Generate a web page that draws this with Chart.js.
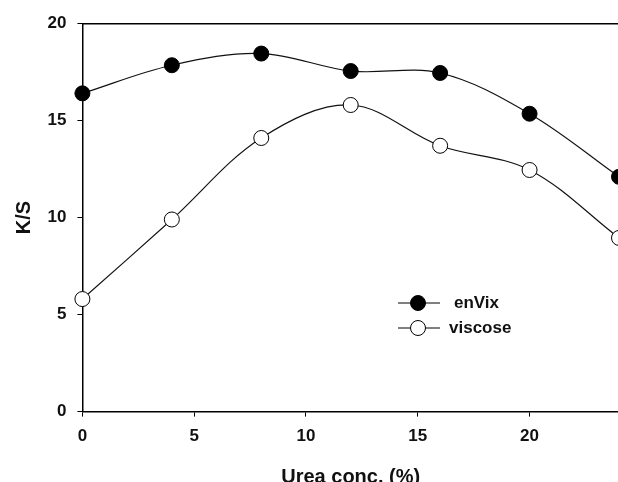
<!DOCTYPE html>
<html>
<head>
<meta charset="utf-8">
<script src="https://cdn.jsdelivr.net/npm/chart.js@4"></script>
<style>
  html, body { margin: 0; padding: 0; background: #fff; overflow: hidden; }
  #wrap { width: 640px; height: 492px; }
</style>
</head>
<body>
<div id="wrap"><canvas id="ksChart" width="640" height="492"></canvas></div>
<script>
// urea concentration (%)
const ureaConc = [0, 4, 8, 12, 16, 20, 24];
// K/S values
const enVix = [16.4, 17.85, 18.45, 17.55, 17.45, 15.35, 12.1];
const viscose = [5.8, 9.9, 14.1, 15.8, 13.7, 12.45, 8.95];
const seriesNames = ['enVix', 'viscose'];
const xTicks = [0, 5, 10, 15, 20];
const yTicks = [0, 5, 10, 15, 20];

const fontFam = '"Liberation Sans", Arial, sans-serif';

const toPoints = (xs, ys) => xs.map((x, i) => ({ x: x, y: ys[i] }));

// legend drawn inside the plot like the original figure
const insideLegend = {
    id: 'insideLegend',
    afterDraw(chart) {
        const ctx = chart.ctx;
        const items = [
            { label: seriesNames[0], fill: '#000', y: 303, tx: 454 },
            { label: seriesNames[1], fill: '#fff', y: 328, tx: 449 }
        ];
        ctx.save();
        items.forEach(it => {
            ctx.strokeStyle = '#000';
            ctx.lineWidth = 1;
            ctx.beginPath();
            ctx.moveTo(398, it.y);
            ctx.lineTo(440, it.y);
            ctx.stroke();
            ctx.beginPath();
            ctx.arc(418, it.y, 7.5, 0, Math.PI * 2);
            ctx.fillStyle = it.fill;
            ctx.fill();
            ctx.stroke();
            ctx.fillStyle = '#111';
            ctx.font = 'bold 17px ' + fontFam;
            ctx.textBaseline = 'middle';
            ctx.fillText(it.label, it.tx, it.y);
        });
        ctx.restore();
    }
};

const data = {
    datasets: [
        {
            label: seriesNames[0],
            data: toPoints(ureaConc, enVix),
            borderColor: '#111',
            borderWidth: 1.2,
            pointRadius: 7.5,
            pointBackgroundColor: '#000',
            pointBorderColor: '#000',
            pointBorderWidth: 1,
            tension: 0.35,
            clip: false
        },
        {
            label: seriesNames[1],
            data: toPoints(ureaConc, viscose),
            borderColor: '#111',
            borderWidth: 1.2,
            pointRadius: 7.5,
            pointBackgroundColor: '#fff',
            pointBorderColor: '#000',
            pointBorderWidth: 1,
            tension: 0.35,
            clip: false
        }
    ]
};

const config = {
    type: 'line',
    data: data,
    options: {
        responsive: false,
        animation: false,
        layout: { padding: { top: 23.5, right: 21, left: 12, bottom: 3 } },
        plugins: {
            legend: { display: false },
            tooltip: { enabled: false }
        },
        scales: {
            x: {
                type: 'linear',
                min: 0,
                max: 24,
                afterBuildTicks: scale => { scale.ticks = xTicks.map(v => ({ value: v })); },
                grid: { drawOnChartArea: false, drawTicks: true, tickLength: 5, tickColor: '#000' },
                border: { color: '#000', width: 1.5 },
                ticks: { color: '#111', font: { family: fontFam, size: 17, weight: 'bold' }, padding: 10 },
                title: {
                    display: true,
                    text: 'Urea conc. (%)',
                    color: '#111',
                    font: { family: fontFam, size: 20, weight: 'bold' },
                    padding: { top: 8, bottom: 0 }
                }
            },
            xTop: {
                type: 'linear',
                position: 'top',
                min: 0,
                max: 24,
                grid: { display: false, drawTicks: false },
                border: { color: '#000', width: 1.5 },
                ticks: { display: false }
            },
            y: {
                min: 0,
                max: 20,
                afterBuildTicks: scale => { scale.ticks = yTicks.map(v => ({ value: v })); },
                grid: { drawOnChartArea: false, drawTicks: true, tickLength: 5, tickColor: '#000' },
                border: { color: '#000', width: 1.5 },
                ticks: { color: '#111', font: { family: fontFam, size: 17, weight: 'bold' }, padding: 11 },
                title: {
                    display: true,
                    text: 'K/S',
                    color: '#111',
                    font: { family: fontFam, size: 20, weight: 'bold' },
                    padding: { top: 0, bottom: 0.5 }
                }
            }
        }
    },
    plugins: [insideLegend]
};

new Chart('ksChart', config);
</script>
</body>
</html>
